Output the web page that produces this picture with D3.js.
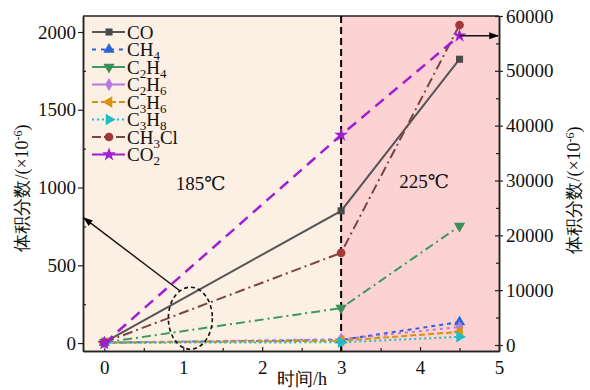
<!DOCTYPE html>
<html>
<head>
<meta charset="utf-8">
<script src="https://cdn.jsdelivr.net/npm/d3@7"></script>
<style>
  body { margin: 0; background: #fff; }
  svg text { font-family: "Liberation Serif", "Times New Roman", Times, "DejaVu Serif", serif; }
</style>
</head>
<body>
<div id="container"></div>
<script>
// time points (h)
const times = [0, 3, 4.5];
// gas volume fractions (x10^-6), left axis
const co = [5, 850, 1825];
const ch4 = [3, 20, 135];
const c2h4 = [3, 225, 752];
const c2h6 = [3, 25, 103];
const c3h6 = [3, 15, 72];
const c3h8 = [2, 5, 40];
const ch3cl = [5, 580, 2045];
// CO2 on the right axis
const co2 = [300, 38300, 56400];

const xTicks = [0, 1, 2, 3, 4, 5];
const yLeftTicks = [0, 500, 1000, 1500, 2000];
const yRightTicks = [0, 10000, 20000, 30000, 40000, 50000, 60000];

const w = 590, h = 390;
const svg = d3.select("#container").append("svg")
  .attr("width", w).attr("height", h);

const x = d3.scaleLinear().domain([-0.27, 5]).range([83, 499]);
const yL = d3.scaleLinear().domain([-51, 2103]).range([351, 16]);
const yR = d3.scaleLinear().domain([-1094, 60000]).range([351, 16]);

const defs = svg.append("defs");
defs.append("marker")
  .attr("id", "arrow")
  .attr("viewBox", "0 0 10 10")
  .attr("refX", 9).attr("refY", 5)
  .attr("markerWidth", 7).attr("markerHeight", 7)
  .attr("orient", "auto")
  .append("path").attr("d", "M0,1.5 L10,5 L0,8.5 z").attr("fill", "#000");

// background regions
svg.append("rect")
  .attr("x", x(-0.27)).attr("y", yL(2103))
  .attr("width", x(3) - x(-0.27)).attr("height", yL(-51) - yL(2103))
  .attr("fill", "#fcefe3");
svg.append("rect")
  .attr("x", x(3)).attr("y", yL(2103))
  .attr("width", x(5) - x(3)).attr("height", yL(-51) - yL(2103))
  .attr("fill", "#fcd2d2");

// axes
const gx = svg.append("g").attr("transform", "translate(0," + yL(-51) + ")")
  .call(d3.axisBottom(x).tickValues(xTicks).tickFormat(d3.format("d")).tickSizeInner(-4).tickSizeOuter(0));
svg.append("g").attr("transform", "translate(0," + yL(-51) + ")")
  .call(d3.axisBottom(x).tickValues([0.5, 1.5, 2.5, 3.5, 4.5]).tickFormat("").tickSizeInner(-3).tickSizeOuter(0));

const gl = svg.append("g").attr("transform", "translate(" + x(-0.27) + ",0)")
  .call(d3.axisLeft(yL).tickValues(yLeftTicks).tickFormat(d3.format("d")).tickSizeInner(5).tickSizeOuter(0));
svg.append("g").attr("transform", "translate(" + x(-0.27) + ",0)")
  .call(d3.axisLeft(yL).tickValues([250, 750, 1250, 1750]).tickFormat("").tickSizeInner(-3).tickSizeOuter(0));

const gr = svg.append("g").attr("transform", "translate(" + x(5) + ",0)")
  .call(d3.axisRight(yR).tickValues(yRightTicks).tickFormat(d3.format("d")).tickSizeInner(4).tickSizeOuter(0));
gr.selectAll(".tick line").attr("x1", -4);
svg.append("g").attr("transform", "translate(" + x(5) + ",0)")
  .call(d3.axisRight(yR).tickValues([5000, 15000, 25000, 35000, 45000, 55000]).tickFormat("").tickSizeInner(-3).tickSizeOuter(0));

svg.selectAll("g").attr("font-family", null);
svg.selectAll(".domain").attr("stroke", "#222").attr("stroke-width", 1.5);
svg.selectAll(".tick line").attr("stroke", "#222").attr("stroke-width", 1.2);
svg.selectAll(".tick text").attr("font-size", 19).attr("fill", "#111");
gx.selectAll(".tick text").attr("dy", "1.05em");
gl.selectAll(".tick text").attr("x", -7);
gr.selectAll(".tick text").attr("x", 7);

// top border
svg.append("line")
  .attr("x1", x(-0.27)).attr("x2", x(5)).attr("y1", yL(2103)).attr("y2", yL(2103))
  .attr("stroke", "#222").attr("stroke-width", 1.5);

// divider at 3 h
svg.append("line")
  .attr("x1", x(3)).attr("x2", x(3)).attr("y1", yL(2103)).attr("y2", yL(-51))
  .attr("stroke", "#000").attr("stroke-width", 2).attr("stroke-dasharray", "7,4");

const series = [
  { name: ["CO"], vals: co, y: yL, color: "#555555", mcolor: "#4a4a4a", dash: null, sym: "square", rot: 0, lw: 2, legDash: null },
  { name: ["CH", "4"], vals: ch4, y: yL, color: "#2b62d6", mcolor: "#2b62d6", dash: "4,4", sym: "triangle", rot: 0, lw: 2, legDash: "4,5" },
  { name: ["C", "2", "H", "4"], vals: c2h4, y: yL, color: "#3a9a5f", mcolor: "#3a8f5a", dash: "9,4,2,4", sym: "triangle", rot: 180, lw: 2, legDash: null },
  { name: ["C", "2", "H", "6"], vals: c2h6, y: yL, color: "#b679de", mcolor: "#b679de", dash: "3,4", sym: "diamond", rot: 0, lw: 2, legDash: null },
  { name: ["C", "3", "H", "6"], vals: c3h6, y: yL, color: "#d8930c", mcolor: "#d8930c", dash: "6,3", sym: "triangle", rot: -90, lw: 2, legDash: "6,3" },
  { name: ["C", "3", "H", "8"], vals: c3h8, y: yL, color: "#19bfc4", mcolor: "#19bfc4", dash: "2,3", sym: "triangle", rot: 90, lw: 2, legDash: "2,3" },
  { name: ["CH", "3", "Cl"], vals: ch3cl, y: yL, color: "#7a4444", mcolor: "#a33838", dash: "10,4,2,4", sym: "circle", rot: 0, lw: 2, legDash: "9,3" },
  { name: ["CO", "2"], vals: co2, y: yR, color: "#a01ed0", mcolor: "#a01ed0", dash: "11,7", sym: "star", rot: 0, lw: 2.5, legDash: null }
];

const symType = { square: d3.symbolSquare, triangle: d3.symbolTriangle, diamond: d3.symbolDiamond, circle: d3.symbolCircle, star: d3.symbolStar };
const symSize = { square: 50, triangle: 55, diamond: 50, circle: 60, star: 60 };

series.forEach(s => {
  const pts = times.map((t, i) => [t, s.vals[i]]);
  const line = d3.line().x(d => x(d[0])).y(d => s.y(d[1]));
  svg.append("path")
    .attr("d", line(pts))
    .attr("fill", "none")
    .attr("stroke", s.color)
    .attr("stroke-width", s.lw)
    .attr("stroke-dasharray", s.dash);
  svg.selectAll(null).data(pts).enter().append("path")
    .attr("d", d3.symbol().type(symType[s.sym]).size(symSize[s.sym]))
    .attr("transform", d => "translate(" + x(d[0]) + "," + s.y(d[1]) + ") rotate(" + s.rot + ")")
    .attr("fill", s.mcolor);
});

// legend
const leg = svg.append("g").attr("transform", "translate(92,32)");
series.forEach((s, i) => {
  const g = leg.append("g").attr("transform", "translate(0," + i * 17.5 + ")");
  g.append("line").attr("x1", 0).attr("x2", 33).attr("y1", 0).attr("y2", 0)
    .attr("stroke", s.color).attr("stroke-width", 2.2).attr("stroke-dasharray", s.legDash);
  g.append("path")
    .attr("d", d3.symbol().type(symType[s.sym]).size(symSize[s.sym]))
    .attr("transform", "translate(17,0) rotate(" + s.rot + ")")
    .attr("fill", s.mcolor);
  const t = g.append("text").attr("x", 35).attr("y", 6.5).attr("font-size", 19).attr("fill", "#111");
  s.name.forEach((part, j) => {
    const isSub = /^\d$/.test(part);
    t.append("tspan")
      .attr("font-size", isSub ? 13 : 19)
      .attr("dy", isSub ? 4 : (j > 0 ? -4 : 0))
      .text(part);
  });
});

// temperature labels
svg.append("text").attr("x", x(1.22)).attr("y", 190).attr("text-anchor", "middle")
  .attr("font-size", 19).attr("fill", "#111").text("185℃");
svg.append("text").attr("x", x(4.05)).attr("y", 188).attr("text-anchor", "middle")
  .attr("font-size", 19).attr("fill", "#111").text("225℃");

// dashed ellipse and arrows
svg.append("ellipse")
  .attr("cx", x(1.09)).attr("cy", yL(160)).attr("rx", 22).attr("ry", 31)
  .attr("fill", "none").attr("stroke", "#111").attr("stroke-width", 1.6).attr("stroke-dasharray", "4,3");
svg.append("line")
  .attr("x1", x(0.96)).attr("y1", yL(335)).attr("x2", x(-0.26)).attr("y2", yL(805))
  .attr("stroke", "#111").attr("stroke-width", 1.4).attr("marker-end", "url(#arrow)");
svg.append("line")
  .attr("x1", x(4.5)).attr("y1", yR(56400)).attr("x2", x(5) - 1).attr("y2", yR(56400))
  .attr("stroke", "#111").attr("stroke-width", 1.4).attr("marker-end", "url(#arrow)");

// axis titles
const yTitle = "体积分数/(×10<tspan dy='-6' font-size='12'>-6</tspan><tspan dy='6'>)</tspan>";
svg.append("text")
  .attr("transform", "translate(28,188) rotate(-90)")
  .attr("text-anchor", "middle").attr("font-size", 18).attr("fill", "#111")
  .html(yTitle);
svg.append("text")
  .attr("transform", "translate(580,190) rotate(-90)")
  .attr("text-anchor", "middle").attr("font-size", 18).attr("fill", "#111")
  .html(yTitle);
svg.append("text")
  .attr("x", 302).attr("y", 385).attr("text-anchor", "middle")
  .attr("font-size", 18).attr("fill", "#111").text("时间/h");
</script>
</body>
</html>
